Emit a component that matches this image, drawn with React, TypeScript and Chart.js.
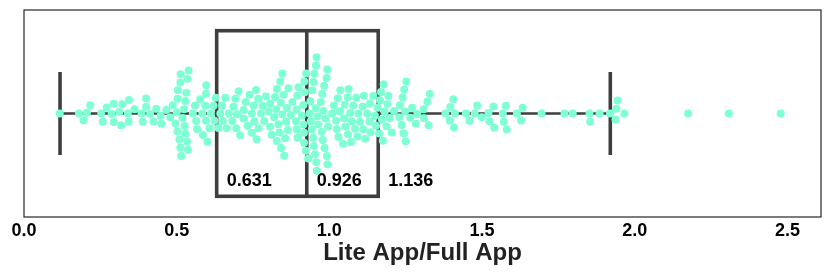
import React, { useEffect, useRef } from 'react';
import { Chart, registerables } from 'chart.js';

Chart.register(...registerables);

// Ratio Lite App / Full App, one value per app
const lowRatios: number[] = [
  0.117, 0.18, 0.195, 0.206, 0.217, 0.253, 0.258, 0.271, 0.287, 0.294, 0.294,
  0.312, 0.318, 0.322, 0.34, 0.343, 0.344, 0.362, 0.385, 0.389, 0.4, 0.4,
  0.413, 0.424, 0.433, 0.447, 0.45, 0.466, 0.479, 0.487, 0.496,
  0.5, 0.503, 0.503, 0.504, 0.509, 0.512, 0.512, 0.513, 0.515, 0.519, 0.524,
  0.526, 0.528, 0.528, 0.532, 0.534, 0.535, 0.537, 0.539, 0.553, 0.56, 0.564,
  0.567, 0.577, 0.584, 0.586, 0.594, 0.596, 0.596, 0.597, 0.601, 0.608, 0.612,
  0.621, 0.624, 0.628,
];
const midLowRatios: number[] = [
  0.637, 0.643, 0.649, 0.651, 0.659, 0.664, 0.671, 0.682, 0.686, 0.692, 0.695,
  0.697, 0.703, 0.708, 0.719, 0.719, 0.726, 0.732, 0.739, 0.746, 0.746, 0.752,
  0.754, 0.76, 0.762, 0.767, 0.768, 0.776, 0.781, 0.787, 0.792, 0.801, 0.806,
  0.806, 0.811, 0.819, 0.822, 0.826, 0.828, 0.828, 0.833, 0.836, 0.839, 0.841,
  0.842, 0.846, 0.846, 0.85, 0.852, 0.855, 0.858, 0.861, 0.864, 0.866, 0.874,
  0.879, 0.891, 0.893, 0.893, 0.895, 0.896, 0.899, 0.91, 0.915, 0.915, 0.917,
  0.917, 0.918, 0.919, 0.923, 0.924,
];
const midHighRatios: number[] = [
  0.931, 0.935, 0.938, 0.939, 0.943, 0.944, 0.947, 0.948, 0.949, 0.951, 0.953,
  0.955, 0.956, 0.957, 0.958, 0.959, 0.961, 0.963, 0.972, 0.975, 0.977, 0.978,
  0.98, 0.983, 0.984, 0.988, 0.991, 0.992, 0.993, 0.994, 0.996, 1.009, 1.015,
  1.022, 1.024, 1.028, 1.03, 1.034, 1.036, 1.045, 1.048, 1.05, 1.052, 1.06,
  1.061, 1.063, 1.068, 1.071, 1.073, 1.078, 1.084, 1.088, 1.092, 1.095, 1.1,
  1.109, 1.111, 1.113, 1.117, 1.124, 1.131, 1.133, 1.135, 1.144, 1.149, 1.153,
];
const highRatios: number[] = [
  1.158, 1.163, 1.166, 1.169, 1.172, 1.175, 1.178, 1.181, 1.187, 1.19, 1.193,
  1.198, 1.204, 1.212, 1.229, 1.231, 1.237, 1.24, 1.243, 1.245, 1.248, 1.25,
  1.252, 1.265, 1.271, 1.283, 1.288, 1.309, 1.31, 1.321, 1.325, 1.329, 1.38,
  1.394, 1.396, 1.406, 1.408, 1.411, 1.447, 1.459, 1.476, 1.484, 1.499, 1.521,
  1.524, 1.537, 1.54, 1.568, 1.571, 1.578, 1.581, 1.614, 1.628, 1.633, 1.695,
  1.77, 1.797, 1.852, 1.854, 1.885, 1.919, 1.937, 1.94, 1.944, 1.966,
  2.175, 2.308, 2.478,
];

// Box plot summary
const whiskerLow = 0.118;
const q1 = 0.631;
const median = 0.926;
const q3 = 1.16;
const whiskerHigh = 1.92;
const statLabelValues: number[] = [0.631, 0.926, 1.16];
const statLabelTexts: string[] = ['0.631', '0.926', '1.136'];

const xTicks: number[] = [0, 0.5, 1.0, 1.5, 2.0, 2.5];
const xMin = 0;
const xMax = 2.61;
const xTitle = 'Lite App/Full App';

const POINT_COLOR = '#7fffd4';
const LINE_COLOR = '#3f3f3f';
const FONT = '"Liberation Sans", Arial, Helvetica, sans-serif';

// seaborn-like beeswarm (pixel space); returns "up" offsets
function beeswarm(px: number[], r: number): number[] {
  const placed: { x: number; u: number }[] = [];
  const res: number[] = [];
  for (let i = 0; i < px.length; i++) {
    const xi = px[i];
    const nb: { x: number; u: number }[] = [];
    for (let j = placed.length - 1; j >= 0; j--) {
      if (xi - placed[j].x < 2 * r) nb.unshift(placed[j]);
      else break;
    }
    const cands: number[] = [0];
    let leftFirst = true;
    for (const n of nb) {
      const dx = xi - n.x;
      const du = Math.sqrt(Math.max(4 * r * r - dx * dx, 0)) * 1.05;
      const cl = n.u - du;
      const cr = n.u + du;
      if (leftFirst) cands.push(cl, cr);
      else cands.push(cr, cl);
      leftFirst = !leftFirst;
    }
    const order = cands
      .map((c, k) => ({ a: Math.abs(c), k, c }))
      .sort((p, q) => p.a - q.a || p.k - q.k);
    let chosen = 0;
    for (const o of order) {
      const ok = nb.every((n) => (n.x - xi) ** 2 + (n.u - o.c) ** 2 >= 4 * r * r - 1e-6);
      if (ok) {
        chosen = o.c;
        break;
      }
    }
    placed.push({ x: xi, u: chosen });
    res.push(chosen);
  }
  return res;
}

const boxPlugin = {
  id: 'boxPlugin',
  beforeDatasetsDraw(chart: any) {
    const { ctx, scales } = chart;
    const xs = scales.x;
    const ys = scales.y;
    const cy = ys.getPixelForValue(0);
    const top = ys.getPixelForValue(0.4);
    const bot = ys.getPixelForValue(-0.4);
    const capTop = ys.getPixelForValue(0.2);
    const capBot = ys.getPixelForValue(-0.2);
    const px = (v: number) => xs.getPixelForValue(v);
    ctx.save();
    ctx.strokeStyle = LINE_COLOR;
    ctx.lineWidth = 2.4;
    ctx.beginPath();
    ctx.moveTo(px(whiskerLow), cy);
    ctx.lineTo(px(q1), cy);
    ctx.moveTo(px(q3), cy);
    ctx.lineTo(px(whiskerHigh), cy);
    ctx.stroke();
    ctx.lineWidth = 3.6;
    ctx.beginPath();
    ctx.moveTo(px(whiskerLow), capTop);
    ctx.lineTo(px(whiskerLow), capBot);
    ctx.moveTo(px(whiskerHigh), capTop);
    ctx.lineTo(px(whiskerHigh), capBot);
    ctx.stroke();
    ctx.lineWidth = 3.6;
    ctx.lineJoin = 'miter';
    ctx.strokeRect(px(q1), top, px(q3) - px(q1), bot - top);
    ctx.beginPath();
    ctx.moveTo(px(median), top);
    ctx.lineTo(px(median), bot);
    ctx.stroke();
    ctx.fillStyle = '#000';
    ctx.font = `bold 18px ${FONT}`;
    ctx.textAlign = 'left';
    ctx.textBaseline = 'middle';
    const ly = ys.getPixelForValue(-0.325);
    statLabelValues.forEach((v, i) => {
      ctx.fillText(statLabelTexts[i], px(v) + 10, ly);
    });
    ctx.restore();
  },
  afterDraw(chart: any) {
    const { ctx, chartArea } = chart;
    ctx.save();
    ctx.strokeStyle = '#262626';
    ctx.lineWidth = 1.2;
    ctx.strokeRect(chartArea.left, chartArea.top, chartArea.right - chartArea.left, chartArea.bottom - chartArea.top);
    ctx.restore();
  },
};

export default function App() {
  const ref = useRef<HTMLCanvasElement | null>(null);
  useEffect(() => {
    document.body.style.margin = '0';
    const values = [...lowRatios, ...midLowRatios, ...midHighRatios, ...highRatios].sort((a, b) => a - b);
    const chart = new Chart(ref.current as HTMLCanvasElement, {
      type: 'scatter',
      data: {
        datasets: [
          {
            data: values.map((v) => ({ x: v, y: 0 })),
            backgroundColor: POINT_COLOR,
            borderWidth: 0,
            pointRadius: 4,
            pointHoverRadius: 4,
          },
        ],
      },
      options: {
        responsive: false,
        devicePixelRatio: 1,
        animation: false,
        events: [],
        layout: { padding: { left: 24, right: 9, top: 10, bottom: 0 } },
        plugins: { legend: { display: false }, tooltip: { enabled: false } },
        scales: {
          x: {
            type: 'linear',
            min: xMin,
            max: xMax,
            afterBuildTicks: (s: any) => {
              s.ticks = xTicks.map((v) => ({ value: v }));
            },
            afterFit: (s: any) => {
              s.height = 60;
            },
            grid: { display: false, drawTicks: false, tickLength: 0 },
            border: { display: false },
            ticks: {
              color: '#000',
              padding: 3,
              font: { family: FONT, size: 18, weight: 'bold' },
              callback: (v: any) => Number(v).toFixed(1),
            },
            title: {
              display: true,
              text: xTitle,
              color: '#222',
              font: { family: FONT, size: 24, weight: 'bold' },
              padding: { top: 0, bottom: 9 },
            },
          },
          y: { type: 'linear', min: -0.5, max: 0.5, display: false },
        },
      },
      plugins: [boxPlugin],
    } as any);
    const xs: any = chart.scales.x;
    const ys: any = chart.scales.y;
    const pxs = values.map((v) => xs.getPixelForValue(v));
    const offs = beeswarm(pxs, 3.95);
    const cy = ys.getPixelForValue(0);
    chart.data.datasets[0].data = values.map((v, i) => ({ x: v, y: ys.getValueForPixel(cy - offs[i]) })) as any;
    chart.update('none');
    return () => chart.destroy();
  }, []);
  return <canvas ref={ref} width={830} height={277} style={{ display: 'block' }} />;
}
